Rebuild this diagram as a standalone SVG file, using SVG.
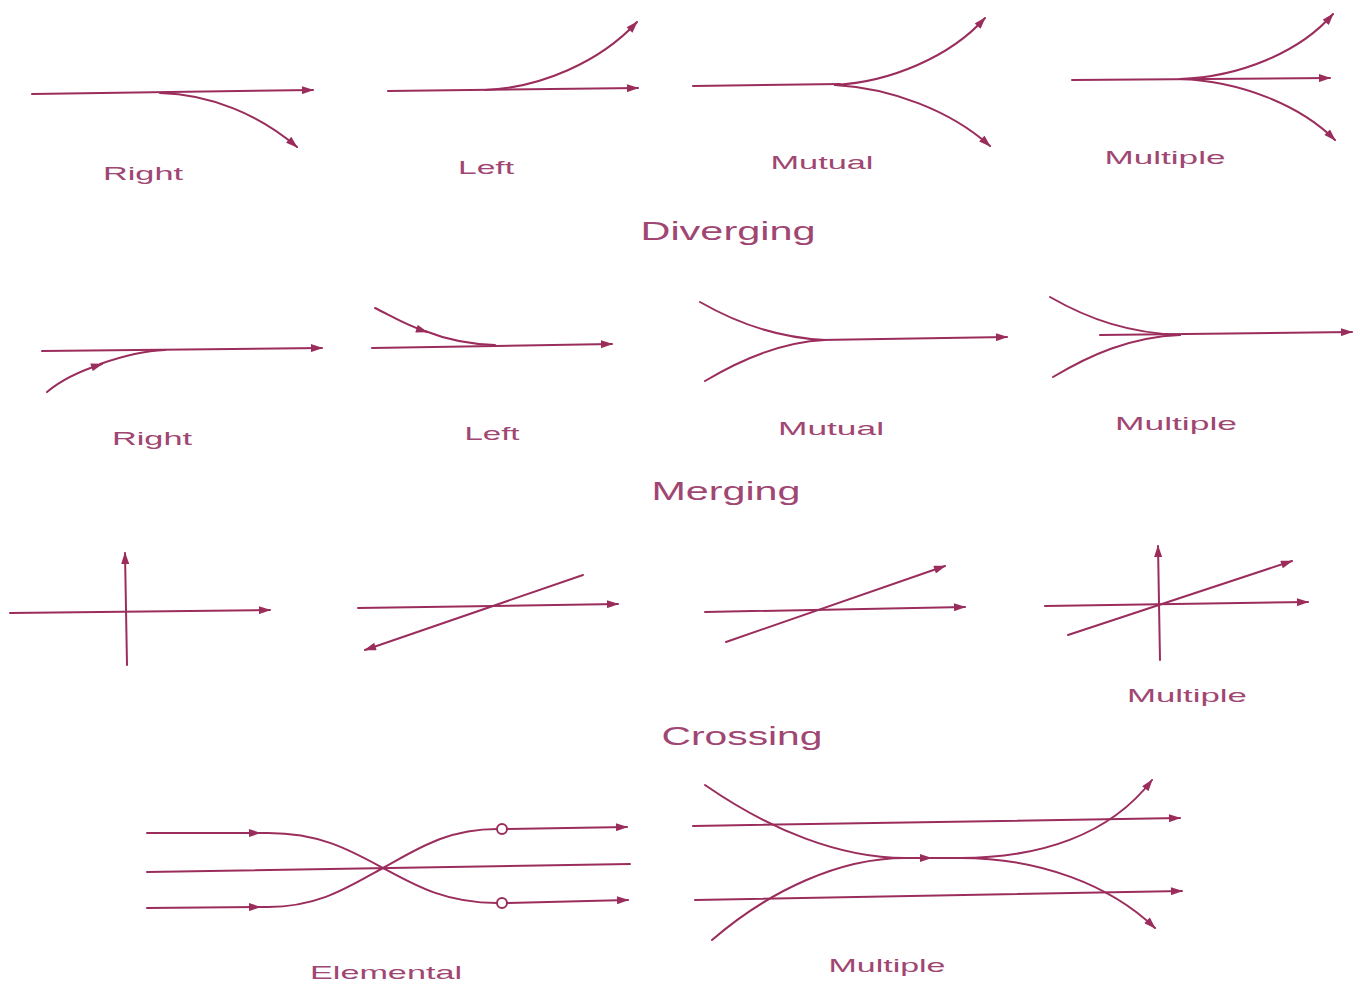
<svg xmlns="http://www.w3.org/2000/svg" width="1355" height="984" viewBox="0 0 1355 984">
<defs>
<marker id="ah" viewBox="0 0 12 8" refX="11" refY="4" markerWidth="13" markerHeight="8" markerUnits="userSpaceOnUse" orient="auto">
<path d="M0,0 L12,4 L0,8 z" fill="#9b2d5c"/>
</marker>
<style>
.l{fill:none;stroke:#9b2d5c;stroke-width:2;stroke-linecap:round}
.a{marker-end:url(#ah)}
.t{font-family:"Liberation Sans",Arial,sans-serif;font-size:19px;fill:#a04672;text-anchor:middle}
.h{font-family:"Liberation Sans",Arial,sans-serif;font-size:26px;fill:#a04672;text-anchor:middle}
.c{fill:#fff;stroke:#9b2d5c;stroke-width:2}
</style>
</defs>
<rect width="1355" height="984" fill="#fff"/>
<g id="connectors">
<!-- Diverging -->
<g id="div-right">
<path class="l a" d="M32,94 L313,90"/>
<path class="l a" d="M160,93 C210,94 260,115 297,147"/>
</g>
<g id="div-left">
<path class="l a" d="M388,91 L638,88"/>
<path class="l a" d="M485,90 C540,88 600,62 637,22"/>
</g>
<g id="div-mutual">
<path class="l" d="M693,86 L840,84"/>
<path class="l a" d="M835,85 C890,82 950,57 985,18"/>
<path class="l a" d="M835,85 C890,88 950,110 990,146"/>
</g>
<g id="div-multiple">
<path class="l a" d="M1072,80 L1330,78"/>
<path class="l a" d="M1180,79 C1240,77 1300,52 1333,14"/>
<path class="l a" d="M1180,79 C1240,81 1300,105 1335,140"/>
</g>
<!-- Merging -->
<g id="mer-right">
<path class="l a" d="M42,351 L322,348"/>
<path class="l a" d="M47,392 C60,381 80,371 102,364"/>
<path class="l" d="M100,364 C120,357 140,351 165,350"/>
</g>
<g id="mer-left">
<path class="l a" d="M372,348 L612,344"/>
<path class="l a" d="M375,308 C395,318 408,326 427,332"/>
<path class="l" d="M425,331 C445,339 465,344 495,345"/>
</g>
<g id="mer-mutual">
<path class="l" d="M700,302 C740,325 780,338 825,340"/>
<path class="l" d="M705,381 C740,360 780,342 825,340"/>
<path class="l a" d="M820,340 L1007,337"/>
</g>
<g id="mer-multiple">
<path class="l" d="M1050,297 C1090,320 1130,333 1180,335"/>
<path class="l" d="M1053,377 C1090,355 1130,337 1180,335"/>
<path class="l a" d="M1100,335 L1352,332"/>
</g>
<!-- Crossing -->
<g id="cross-a">
<path class="l a" d="M10,613 L270,610"/>
<path class="l a" d="M127,665 L125,553"/>
</g>
<g id="cross-b">
<path class="l a" d="M358,608 L618,604"/>
<path class="l a" d="M583,575 L365,650"/>
</g>
<g id="cross-c">
<path class="l a" d="M705,612 L965,607"/>
<path class="l a" d="M726,642 L945,566"/>
</g>
<g id="cross-d">
<path class="l a" d="M1045,606 L1308,602"/>
<path class="l a" d="M1068,635 L1292,561"/>
<path class="l a" d="M1160,660 L1158,546"/>
</g>
<!-- Weaving elemental -->
<g id="weave-elemental">
<path class="l a" d="M147,833 L260,833"/>
<path class="l" d="M255,833 L268,833 C320,833 350,850 383,868 C416,886 446,903 497,903"/>
<path class="l a" d="M507,903 L628,900"/>
<path class="l a" d="M147,908 L260,907"/>
<path class="l" d="M255,907 L268,907 C320,907 350,886 383,868 C416,850 446,829 497,829"/>
<path class="l a" d="M507,829 L627,827"/>
<path class="l" d="M147,872 L630,864"/>
<circle class="c" cx="502" cy="903" r="5"/>
<circle class="c" cx="502" cy="829" r="5"/>
</g>
<!-- Weaving multiple -->
<g id="weave-multiple">
<path class="l a" d="M693,826 L1180,818"/>
<path class="l a" d="M695,900 L1182,891"/>
<path class="l" d="M705,785 C770,830 840,858 905,858"/>
<path class="l" d="M712,940 C770,890 840,858 905,858"/>
<path class="l a" d="M900,858 L931,858"/>
<path class="l" d="M925,858 L965,858"/>
<path class="l a" d="M960,858 C1040,858 1110,835 1152,780"/>
<path class="l a" d="M960,858 C1040,858 1110,885 1155,928"/>
</g>
</g>
<g id="labels">
<text class="t" x="143" y="180" textLength="80" lengthAdjust="spacingAndGlyphs">Right</text>
<text class="t" x="486" y="174" textLength="56" lengthAdjust="spacingAndGlyphs">Left</text>
<text class="t" x="822" y="169" textLength="103" lengthAdjust="spacingAndGlyphs">Mutual</text>
<text class="t" x="1165" y="164" textLength="121" lengthAdjust="spacingAndGlyphs">Multiple</text>
<text class="h" x="728" y="240" textLength="175" lengthAdjust="spacingAndGlyphs">Diverging</text>
<text class="t" x="152" y="445" textLength="80" lengthAdjust="spacingAndGlyphs">Right</text>
<text class="t" x="492" y="440" textLength="55" lengthAdjust="spacingAndGlyphs">Left</text>
<text class="t" x="831" y="435" textLength="106" lengthAdjust="spacingAndGlyphs">Mutual</text>
<text class="t" x="1176" y="430" textLength="122" lengthAdjust="spacingAndGlyphs">Multiple</text>
<text class="h" x="726" y="500" textLength="149" lengthAdjust="spacingAndGlyphs">Merging</text>
<text class="t" x="1187" y="702" textLength="120" lengthAdjust="spacingAndGlyphs">Multiple</text>
<text class="h" x="742" y="745" textLength="161" lengthAdjust="spacingAndGlyphs">Crossing</text>
<text class="t" x="386" y="979" textLength="152" lengthAdjust="spacingAndGlyphs">Elemental</text>
<text class="t" x="887" y="972" textLength="117" lengthAdjust="spacingAndGlyphs">Multiple</text>
</g>
</svg>
